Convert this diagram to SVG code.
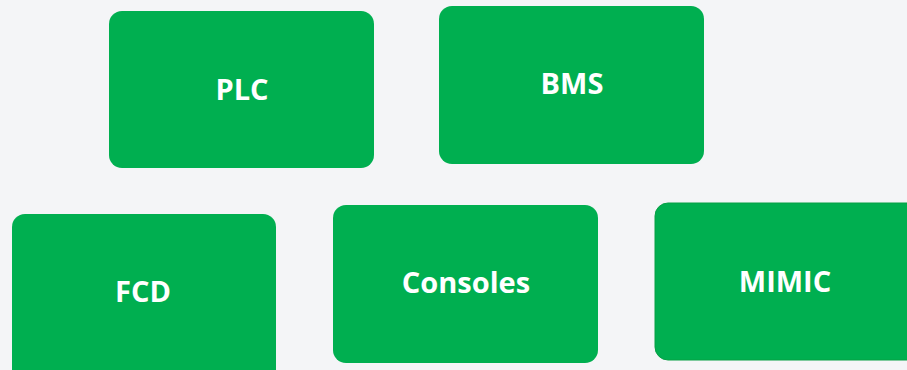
<svg xmlns="http://www.w3.org/2000/svg" width="907" height="370" viewBox="0 0 907 370">
<style>
.box{fill:#00af50}
.lbl{fill:#ffffff;font-family:"Open Sans","Liberation Sans",sans-serif;font-weight:bold;font-size:29px;text-anchor:middle}
</style>
<rect x="0" y="0" width="907" height="370" fill="#f4f5f7"/>
<g id="plc"><rect class="box" x="109" y="11" width="265" height="157" rx="13"/><text class="lbl" x="242" y="100">PLC</text></g>
<g id="bms"><rect class="box" x="439" y="6" width="265" height="158" rx="13"/><text class="lbl" x="572" y="94">BMS</text></g>
<g id="fcd"><rect class="box" x="12" y="214" width="264" height="170" rx="13"/><text class="lbl" x="143" y="302">FCD</text></g>
<g id="consoles"><rect class="box" x="333" y="205" width="265" height="158" rx="13"/><text class="lbl" x="466" y="293">Consoles</text></g>
<g id="mimic"><rect class="box" x="655" y="203" width="270" height="157" rx="13" fill="#0aae4c" stroke="#06a044" stroke-width="1"/><text class="lbl" x="785" y="292" fill="#eef8ee">MIMIC</text></g>
<g id="connectors"/>
</svg>
